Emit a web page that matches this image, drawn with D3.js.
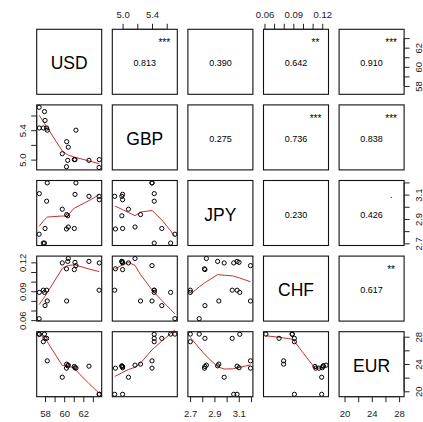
<!DOCTYPE html>
<html><head><meta charset="utf-8">
<script src="https://cdn.jsdelivr.net/npm/d3@7"></script>
<style>body{margin:0;background:#fff}</style>
</head><body>
<svg id="c" width="423" height="422"></svg>
<script>
// ---------- data ----------
const varNames = ["USD", "GBP", "JPY", "CHF", "EUR"];
const USD = [57.38,57.40,57.82,57.94,58.00,58.17,58.23,59.80,60.26,60.24,60.43,60.37,61.06,61.13,61.23,62.59,63.67,63.65];
const GBP = [5.711,5.43,5.43,5.653,5.533,5.43,5.40,5.08,5.244,4.903,5.169,4.99,5.00,5.00,5.40,4.99,5.00,4.893];
const JPY = [2.775,3.108,2.702,2.702,2.822,3.046,3.196,2.98,2.936,2.818,2.834,2.926,2.822,3.102,3.196,3.086,3.058,3.086];
const CHF = [0.0615,0.0888,0.0911,0.0888,0.0751,0.0911,0.0799,0.1194,0.0799,0.1133,0.1240,0.1210,0.1125,0.1200,0.1166,0.1210,0.1194,0.0911];
const EUR = [28.38,28.35,27.26,28.38,27.76,27.76,24.46,22.06,23.98,23.39,23.83,23.73,23.64,23.45,23.39,23.68,19.56,19.56];

// upper-triangle order: (1,2),(1,3),(1,4),(1,5),(2,3),(2,4),(2,5),(3,4),(3,5),(4,5)
const corrLabels = ["0.813","0.390","0.642","0.910","0.275","0.736","0.838","0.230","0.426","0.617"];
const corrStars  = ["***","","**","***","","***","***","",".","**"];

const usdTicks = [58,59,60,61,62,63];
const usdTickLabels = ["58","","60","","62",""];
const gbpTicks = [5.0,5.2,5.4,5.6];
const gbpTickLabels = ["5.0","","5.4",""];
const jpyTicks = [2.7,2.8,2.9,3.0,3.1,3.2];
const jpyTickLabels = ["2.7","","2.9","","3.1",""];
const chfTicks = [0.06,0.07,0.08,0.09,0.10,0.11,0.12];
const chfTickLabels = ["0.06","","","0.09","","","0.12"];
const eurTicks = [20,22,24,26,28];
const eurTickLabels = ["20","","24","","28"];

// ---------- layout ----------
const X0 = 36.7, Y0 = 29.3, STEP = 75.6, SIZE = 65;
const FONT = "'Liberation Sans', Arial, Helvetica, sans-serif";
const SMOOTH = "#c83030";

const cols = [USD, GBP, JPY, CHF, EUR];
const ticksList = [usdTicks, gbpTicks, jpyTicks, chfTicks, eurTicks];
const labelsList = [usdTickLabels, gbpTickLabels, jpyTickLabels, chfTickLabels, eurTickLabels];

function ext(a) { const [lo, hi] = d3.extent(a); const r = hi - lo; return [lo - 0.04 * r, hi + 0.04 * r]; }
const xS = cols.map((a, j) => d3.scaleLinear().domain(ext(a)).range([X0 + j * STEP, X0 + j * STEP + SIZE]));
const yS = cols.map((a, i) => d3.scaleLinear().domain(ext(a)).range([Y0 + i * STEP + SIZE, Y0 + i * STEP]));

// R's lowess (clowess) port
function lowess(xIn, yIn, f = 2/3, nsteps = 3) {
  const n = xIn.length;
  const idx = d3.range(n).sort((a, b) => (xIn[a] - xIn[b]) || (a - b));
  const x = idx.map(i => xIn[i]), y = idx.map(i => yIn[i]);
  const delta = 0.01 * (x[n-1] - x[0]);
  const ys = new Array(n).fill(0), rw = new Array(n).fill(0), res = new Array(n).fill(0);
  const ns = Math.max(2, Math.min(n, Math.floor(f * n + 1e-7)));
  const range = x[n-1] - x[0];
  function lowest(xs, nleft, nright, userw) {
    const h = Math.max(xs - x[nleft], x[nright] - xs);
    const h9 = 0.999 * h, h1 = 0.001 * h;
    const w = res;
    let a = 0, j = nleft;
    while (j < n) {
      w[j] = 0;
      const r = Math.abs(x[j] - xs);
      if (r <= h9) {
        if (r <= h1) w[j] = 1; else w[j] = Math.pow(1 - Math.pow(r / h, 3), 3);
        if (userw) w[j] *= rw[j];
        a += w[j];
      } else if (x[j] > xs) break;
      j++;
    }
    const nrt = j - 1;
    if (a <= 0) return null;
    for (j = nleft; j <= nrt; j++) w[j] /= a;
    if (h > 0) {
      a = 0;
      for (j = nleft; j <= nrt; j++) a += w[j] * x[j];
      let b = xs - a, c = 0;
      for (j = nleft; j <= nrt; j++) c += w[j] * (x[j] - a) * (x[j] - a);
      if (Math.sqrt(c) > 0.001 * range) {
        b /= c;
        for (j = nleft; j <= nrt; j++) w[j] *= (b * (x[j] - a) + 1);
      }
    }
    let s = 0;
    for (j = nleft; j <= nrt; j++) s += w[j] * y[j];
    return s;
  }
  let iter = 1;
  while (iter <= nsteps + 1) {
    let nleft = 0, nright = ns - 1, last = -1, i = 0;
    for (;;) {
      if (nright < n - 1) {
        const d1 = x[i] - x[nleft], d2 = x[nright + 1] - x[i];
        if (d1 > d2) { nleft++; nright++; continue; }
      }
      const v = lowest(x[i], nleft, nright, iter > 1);
      ys[i] = (v === null) ? y[i] : v;
      if (last < i - 1) {
        const denom = x[i] - x[last];
        for (let j = last + 1; j < i; j++) {
          const alpha = (x[j] - x[last]) / denom;
          ys[j] = alpha * ys[i] + (1 - alpha) * ys[last];
        }
      }
      last = i;
      const cut = x[last] + delta;
      for (i = last + 1; i < n; i++) {
        if (x[i] > cut) break;
        if (x[i] === x[last]) { ys[i] = ys[last]; last = i; }
      }
      i = Math.max(last + 1, i - 1);
      if (last >= n - 1) break;
    }
    for (let k = 0; k < n; k++) res[k] = y[k] - ys[k];
    let sc = 0; for (let k = 0; k < n; k++) sc += Math.abs(res[k]); sc /= n;
    if (iter > nsteps) break;
    const sorted = res.map(Math.abs).sort((a, b) => a - b);
    const m1 = Math.floor(n / 2);
    let cmad;
    if (n % 2 === 0) { const m2 = n - m1 - 1; cmad = 3 * (sorted[m1] + sorted[m2]); }
    else cmad = 6 * sorted[m1];
    if (cmad < 1e-7 * sc) break;
    const c9 = 0.999 * cmad, c1 = 0.001 * cmad;
    for (let k = 0; k < n; k++) {
      const r = Math.abs(res[k]);
      rw[k] = r <= c1 ? 1 : (r <= c9 ? Math.pow(1 - Math.pow(r / cmad, 2), 2) : 0);
    }
    iter++;
  }
  return x.map((xv, k) => [xv, ys[k]]);
}

const svg = d3.select("#c");
svg.append("rect").attr("width", 423).attr("height", 422).attr("fill", "#fff");

let k = 0;
const corrIndex = {};
for (let i = 0; i < 5; i++) for (let j = i + 1; j < 5; j++) corrIndex[i + "," + j] = k++;

for (let i = 0; i < 5; i++) {
  for (let j = 0; j < 5; j++) {
    const px = X0 + j * STEP, py = Y0 + i * STEP;
    const g = svg.append("g");
    if (i === j) {
      g.append("text").attr("x", px + SIZE / 2).attr("y", py + SIZE / 2 + 1.5)
        .attr("text-anchor", "middle").attr("dominant-baseline", "central")
        .attr("font-family", FONT).attr("font-size", 17.5).attr("fill", "#000")
        .text(varNames[i]);
    } else if (i < j) {
      const c = corrIndex[i + "," + j];
      g.append("text").attr("x", px + SIZE / 2).attr("y", py + SIZE / 2 + 1.5)
        .attr("text-anchor", "middle").attr("dominant-baseline", "central")
        .attr("font-family", FONT).attr("font-size", 9).attr("fill", "#000")
        .text(corrLabels[c]);
      if (corrStars[c]) {
        g.append("text").attr("x", px + 0.8 * SIZE).attr("y", py + 0.2 * SIZE + 4)
          .attr("text-anchor", "middle")
          .attr("font-family", FONT).attr("font-size", 10).attr("fill", "#000")
          .text(corrStars[c]);
      }
    } else {
      const xd = cols[j], yd = cols[i];
      const sm = lowess(xd, yd);
      g.append("path").datum(sm)
        .attr("d", d3.line().x(d => xS[j](d[0])).y(d => yS[i](d[1])))
        .attr("fill", "none").attr("stroke", SMOOTH).attr("stroke-width", 1);
      g.selectAll("circle").data(d3.range(xd.length)).join("circle")
        .attr("cx", n => xS[j](xd[n])).attr("cy", n => yS[i](yd[n]))
        .attr("r", 2.1).attr("fill", "none").attr("stroke", "#000").attr("stroke-width", 1);
    }
    g.append("rect").attr("x", px).attr("y", py).attr("width", SIZE).attr("height", SIZE)
      .attr("fill", "none").attr("stroke", "#111").attr("stroke-width", 1.1);
  }
}

function styleAxis(g) {
  g.attr("font-family", FONT).attr("font-size", 9.5);
  g.select(".domain").remove();
  g.selectAll("line").attr("stroke", "#222");
  g.selectAll("text").attr("fill", "#222");
}
const TICK = 5.5;
const xLast = X0 + 4 * STEP + SIZE, yLast = Y0 + 4 * STEP + SIZE;

// top axes (GBP, CHF)
[1, 3].forEach(j => {
  const g = svg.append("g").attr("transform", `translate(0,${Y0})`)
    .call(d3.axisTop(xS[j]).tickValues(ticksList[j]).tickFormat((d, q) => labelsList[j][q]).tickSize(TICK).tickPadding(6.2));
  styleAxis(g);
  const t = ticksList[j];
  g.append("line").attr("x1", xS[j](t[0])).attr("x2", xS[j](t[t.length - 1])).attr("stroke", "#222");
});
// bottom axes (USD, JPY, EUR)
[0, 2, 4].forEach(j => {
  const g = svg.append("g").attr("transform", `translate(0,${yLast})`)
    .call(d3.axisBottom(xS[j]).tickValues(ticksList[j]).tickFormat((d, q) => labelsList[j][q]).tickSize(TICK).tickPadding(8.5));
  styleAxis(g);
  const t = ticksList[j];
  g.append("line").attr("x1", xS[j](t[0])).attr("x2", xS[j](t[t.length - 1])).attr("stroke", "#222");
});
// left axes (GBP, CHF)
[1, 3].forEach(i => {
  const g = svg.append("g").attr("transform", `translate(${X0},0)`)
    .call(d3.axisLeft(yS[i]).tickValues(ticksList[i]).tickFormat((d, q) => labelsList[i][q]).tickSize(TICK));
  styleAxis(g);
  g.selectAll("text").attr("x", null).attr("dy", null).attr("text-anchor", "middle")
    .attr("transform", "translate(-11,0) rotate(-90)");
  const t = ticksList[i];
  g.append("line").attr("y1", yS[i](t[0])).attr("y2", yS[i](t[t.length - 1])).attr("stroke", "#222");
});
// right axes (USD, JPY, EUR)
[0, 2, 4].forEach(i => {
  const g = svg.append("g").attr("transform", `translate(${xLast},0)`)
    .call(d3.axisRight(yS[i]).tickValues(ticksList[i]).tickFormat((d, q) => labelsList[i][q]).tickSize(TICK));
  styleAxis(g);
  g.selectAll("text").attr("x", null).attr("dy", null).attr("text-anchor", "middle")
    .attr("transform", "translate(17.4,0) rotate(-90)");
  const t = ticksList[i];
  g.append("line").attr("y1", yS[i](t[0])).attr("y2", yS[i](t[t.length - 1])).attr("stroke", "#222");
});
</script>
</body></html>
